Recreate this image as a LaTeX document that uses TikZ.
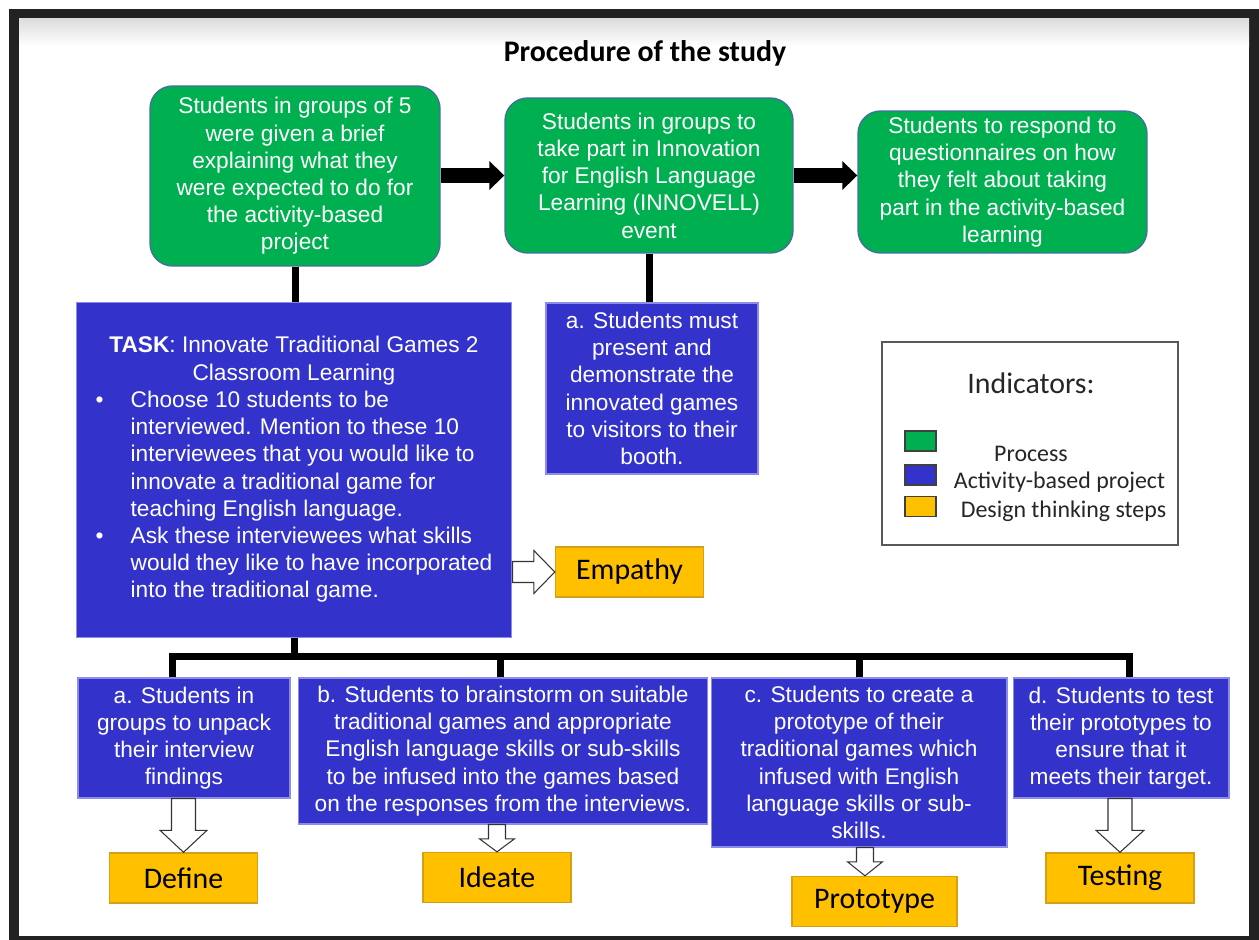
\documentclass[tikz,border=0pt]{standalone}
\usepackage{fontspec}
\setmainfont{Liberation Sans}
\newfontfamily\labelfont{Carlito}
\usetikzlibrary{arrows.meta,calc}

\definecolor{procgreen}{HTML}{00B050}
\definecolor{procedge}{HTML}{41719C}
\definecolor{actblue}{HTML}{3333CC}
\definecolor{actedge}{HTML}{8C8CE6}
\definecolor{stepyellow}{HTML}{FFC000}
\definecolor{stepedge}{HTML}{D4A017}
\definecolor{framegray}{HTML}{222222}

\newcommand{\boxfont}{\fontsize{12.9pt}{15.5pt}\selectfont}
\newcommand{\stepfont}{\labelfont\fontsize{17pt}{20pt}\selectfont}

% white block arrow: start, tip, shaft half width, head half width, head length
\newcommand{\hollowarrow}[5]{%
  \path ($(#2)!#5!(#1)$) coordinate (hb);
  \draw[hollow] ($(#1)!#3!90:(#2)$) -- ($(hb)!#3!90:(#2)$) -- ($(hb)!#4!90:(#2)$) -- (#2)
    -- ($(hb)!#4!-90:(#2)$) -- ($(hb)!#3!-90:(#2)$) -- ($(#1)!#3!-90:(#2)$) -- cycle;}

\tikzset{
  process/.style={rectangle, rounded corners=0.45cm, fill=procgreen, draw=procedge,
    line width=0.8pt, text=white, font=\boxfont, align=center, inner sep=0pt},
  activity/.style={rectangle, fill=actblue, draw=actedge, line width=0.6pt,
    text=white, font=\boxfont, align=center, inner sep=0pt},
  stepbox/.style={rectangle, fill=stepyellow, draw=stepedge, line width=0.8pt,
    font=\stepfont, minimum width=2.96cm, minimum height=1cm, inner sep=0pt},
  swatch/.style={rectangle, draw=black!75, line width=0.6pt,
    minimum width=0.62cm, minimum height=0.4cm, inner sep=0pt},
  legendtext/.style={font=\labelfont\fontsize{13.6pt}{16pt}\selectfont, text=black!85},
  bus/.style={line width=0.14cm},
  flow/.style={line width=0.3cm, -{Triangle[length=0.3cm,width=0.56cm]}},
  hollow/.style={draw=black!80, fill=white, line width=0.6pt, line join=miter},
}

\begin{document}
\begin{tikzpicture}[x=0.02cm, y=-0.02cm]
  \useasboundingbox[fill=white] (0,0) rectangle (1259,940);
  \fill[framegray] (9,9) rectangle (1259,940);
  \fill[white] (19,18) rectangle (1249,936);
  \shade[top color=black!14, bottom color=white] (19,18) rectangle (1249,46);

  \node[font=\labelfont\bfseries\fontsize{17pt}{20pt}\selectfont] (title) at (645,53) {Procedure of the study};

  % process row
  \node[process, minimum width=5.8cm, minimum height=3.6cm] (brief) at (295,176)
    {Students in groups of 5\\were given a brief\\explaining what they\\were expected to do for\\the activity-based\\project};
  \node[process, minimum width=5.76cm, minimum height=3.1cm] (event) at (649,175.5)
    {Students in groups to\\take part in Innovation\\for English Language\\Learning (INNOVELL)\\event};
  \node[process, minimum width=5.78cm, minimum height=2.84cm] (survey) at (1002.5,182)
    {Students to respond to\\questionnaires on how\\they felt about taking\\part in the activity-based\\learning};

  % activities
  \node[activity, minimum width=8.72cm, minimum height=6.72cm] (task) at (294,470) {%
    \begin{tabular}{@{}p{0.7cm}@{}l@{}}
    \multicolumn{2}{@{}c@{}}{\textbf{TASK}: Innovate Traditional Games 2}\\
    \multicolumn{2}{@{}c@{}}{Classroom Learning}\\
    \textbullet & Choose 10 students to be\\
      & interviewed. Mention to these 10\\
      & interviewees that you would like to\\
      & innovate a traditional game for\\
      & teaching English language.\\
    \textbullet & Ask these interviewees what skills\\
      & would they like to have incorporated\\
      & into the traditional game.
    \end{tabular}};
  \node[activity, minimum width=4.24cm, minimum height=3.42cm] (present) at (652,388.5)
    {a. Students must\\present and\\demonstrate the\\innovated games\\to visitors to their\\booth.};

  \node[activity, minimum width=4.24cm, minimum height=2.4cm] (unpack) at (184,738)
    {a. Students in\\groups to unpack\\their interview\\findings};
  \node[activity, minimum width=8.2cm, minimum height=2.92cm] (ideas) at (503,751)
    {b. Students to brainstorm on suitable\\traditional games and appropriate\\English language skills or sub-skills\\to be infused into the games based\\on the responses from the interviews.};
  \node[activity, minimum width=5.92cm, minimum height=3.38cm] (proto) at (859,762.5)
    {c. Students to create a\\prototype of their\\traditional games which\\infused with English\\language skills or sub-\\skills.};
  \node[activity, minimum width=4.32cm, minimum height=2.4cm] (test) at (1121,738)
    {d. Students to test\\their prototypes to\\ensure that it\\meets their target.};

  % design thinking steps
  \node[stepbox] (empathy) at (629.5,572) {Empathy};
  \node[stepbox] (define) at (183.5,878) {Define};
  \node[stepbox] (ideate) at (497,877.5) {Ideate};
  \node[stepbox, minimum width=3.3cm] (prototype) at (874.5,901.5) {Prototype};
  \node[stepbox] (testing) at (1120,878) {Testing};

  % legend
  \node[draw=black!65, line width=1pt, minimum width=5.92cm, minimum height=4.06cm] (legend) at (1030,443.5) {};
  \node[font=\labelfont\fontsize{17pt}{20pt}\selectfont, text=black!85] (indic) at (1031,383) {Indicators:};
  \node[swatch, fill=procgreen] (swP) at (920.5,441) {};
  \node[swatch, fill=actblue] (swA) at (920.5,475) {};
  \node[swatch, fill=stepyellow] (swD) at (920.5,506.5) {};
  \node[legendtext] (lbP) at (1031,454) {Process};
  \node[legendtext] (lbA) at (1059.5,482) {Activity-based project};
  \node[legendtext] (lbD) at (1063.5,511) {Design thinking steps};

  % connectors
  \draw[flow] (brief.east |- event.west) -- (event.west);
  \draw[flow] (event.east) -- (event.east -| survey.west);
  \draw[bus] (brief.south) -- (brief.south |- task.north);
  \draw[bus] (event.south) -- (event.south |- present.north);

  \coordinate (busL) at (172,656);
  \coordinate (busR) at (1129,656);
  \draw[bus] (task.south) -- (task.south |- busL);
  \draw[bus] (busL |- unpack.north) -- (busL) -- (busR) -- (busR |- test.north);
  \foreach \b/\x in {ideas/500, proto/859}
    \draw[bus] (\x,656) -- (\b.north -| \x,0);

  \coordinate (eS) at (task.east |- empathy.west);
  \hollowarrow{eS}{empathy.west}{0.21cm}{0.43cm}{0.42cm}
  \coordinate (dS) at (unpack.south -| define.north);
  \hollowarrow{dS}{define.north}{0.24cm}{0.47cm}{0.44cm}
  \coordinate (iS) at (ideas.south -| ideate.north);
  \hollowarrow{iS}{ideate.north}{0.17cm}{0.35cm}{0.26cm}
  \coordinate (pS) at (proto.south -| 865,0);
  \hollowarrow{pS}{prototype.north -| 865,0}{0.17cm}{0.35cm}{0.28cm}
  \coordinate (tS) at (test.south -| testing.north);
  \hollowarrow{tS}{testing.north}{0.24cm}{0.48cm}{0.44cm}
\end{tikzpicture}
\end{document}
